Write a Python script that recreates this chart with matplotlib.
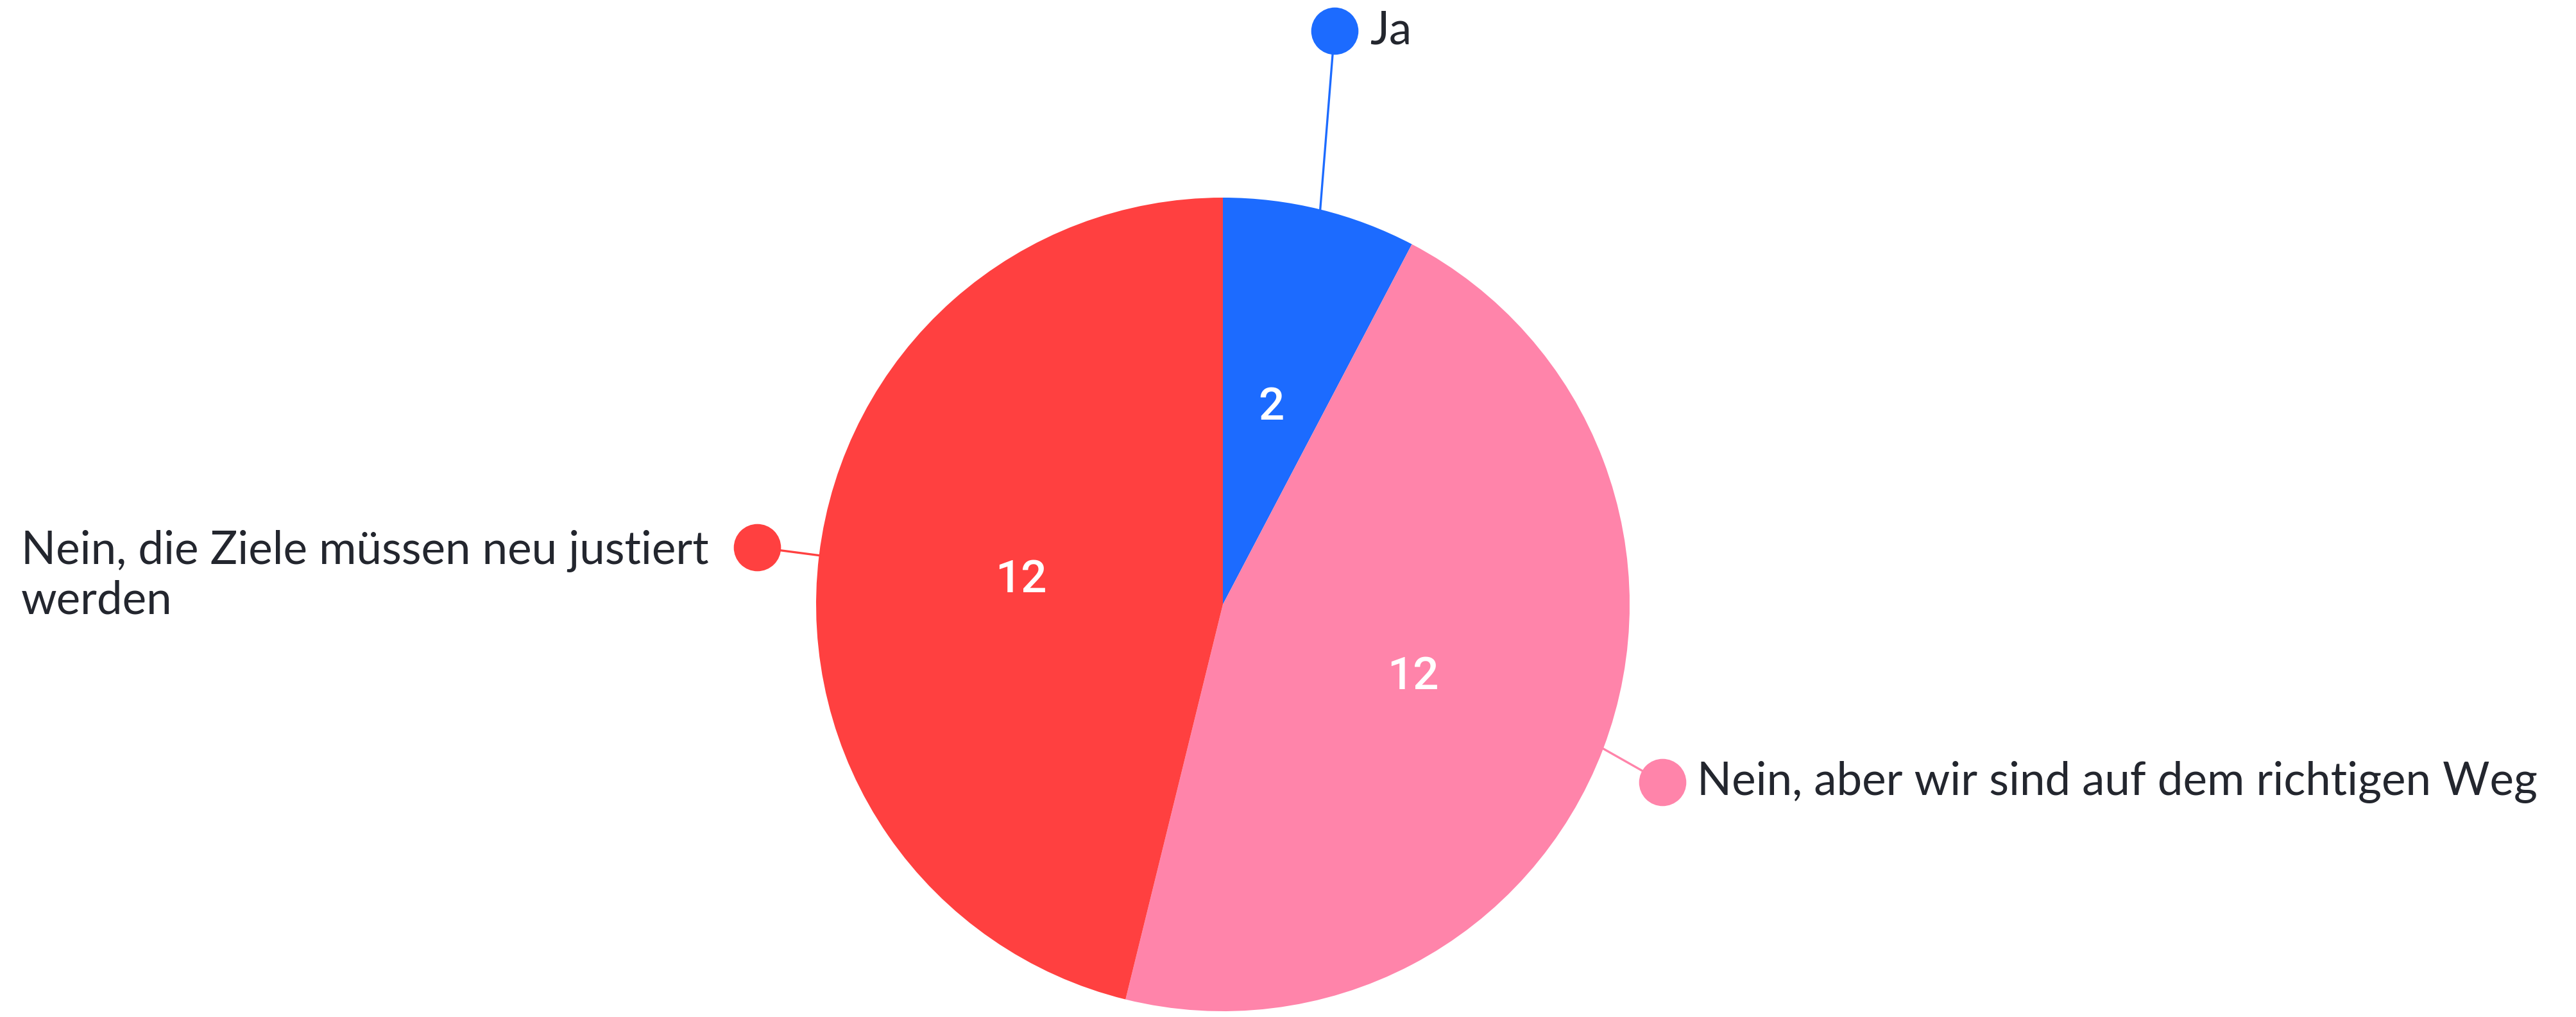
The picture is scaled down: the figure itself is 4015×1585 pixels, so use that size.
import numpy as np
import matplotlib.pyplot as plt

labels = ['Ja', 'Nein, aber wir sind auf dem richtigen Weg',
          'Nein, die Ziele müssen neu justiert\nwerden']
values = [2, 12, 12]
colors = ['#1c6bff', '#ff84aa', '#ff4040']

W, H = 4015, 1585
cx, cy, r = 1906, H - 942, 634

# dot positions of the outside labels (pixel coords, y up)
dots = [(2080, H - 48), (2591, H - 1219), (1180, H - 853)]
text_pos = [(2135, H - 48, 'left'), (2645, H - 1219, 'left'), (33, H - 897, 'left')]
txt_col = '#23262e'

fig = plt.figure(figsize=(W / 100, H / 100), dpi=100)
ax = fig.add_axes([0, 0, 1, 1])

wedges, texts = ax.pie(values, colors=colors, startangle=90, counterclock=False,
                       center=(cx, cy), radius=r, labels=[str(v) for v in values],
                       labeldistance=0.5, wedgeprops=dict(linewidth=0),
                       textprops=dict(color='white', fontsize=51,
                                      family=['Roboto', 'Liberation Sans'],
                                      fontweight='medium'))
for t in texts:
    t.set_ha('center')
    t.set_va('center')

for w, lab, col, (dx, dy), (tx, ty, ha) in zip(wedges, labels, colors, dots, text_pos):
    ang = np.deg2rad((w.theta1 + w.theta2) / 2)
    ex, ey = cx + r * np.cos(ang), cy + r * np.sin(ang)
    ax.plot([ex, dx], [ey, dy], color=col, lw=2.4, zorder=3)
    ax.plot(dx, dy, 'o', ms=53, color=col, mec='none', zorder=4)
    ax.text(tx, ty, lab, ha=ha, va='center', color=txt_col, fontsize=51,
            family='Lato', linespacing=1.22)

ax.set_xlim(0, W)
ax.set_ylim(0, H)
ax.set_aspect('equal')
ax.axis('off')

fig.savefig('out.png', dpi=100, facecolor='white')
